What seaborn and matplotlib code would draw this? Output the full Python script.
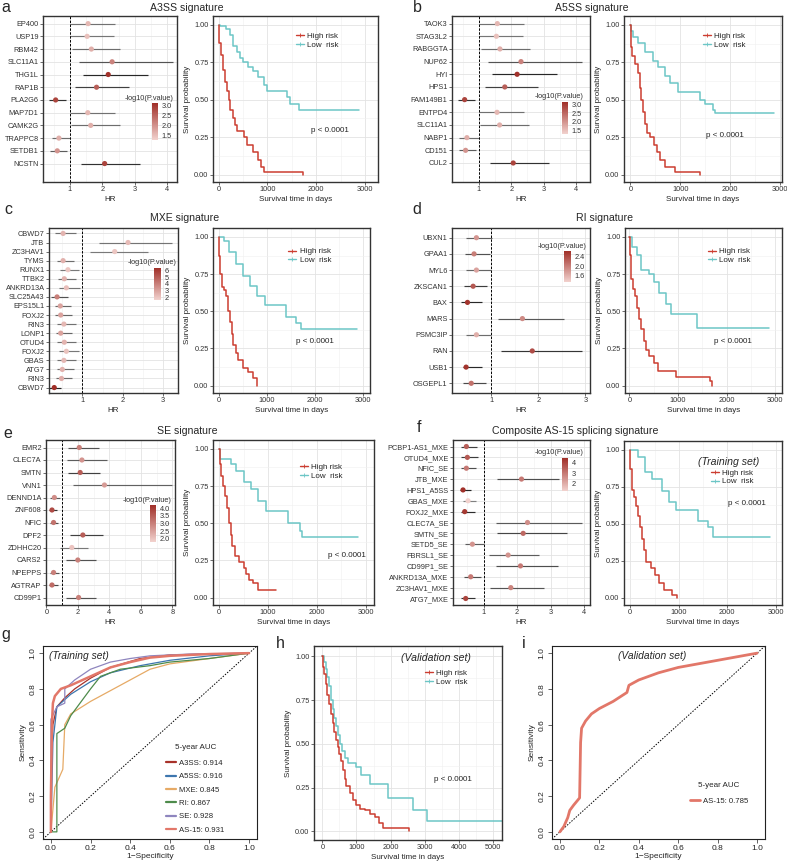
"""
Multi-panel AS signature figure: forest plots, KM curves and ROC curves.
"""
import numpy as np
import pandas as pd
import matplotlib
matplotlib.use("Agg")
import matplotlib.pyplot as plt
from matplotlib.colors import LinearSegmentedColormap, Normalize
from matplotlib.cm import ScalarMappable
from matplotlib.lines import Line2D
from matplotlib.ticker import MultipleLocator
import seaborn as sns

# ---------------- data ----------------
a_genes = ["EP400", "USP19", "RBM42", "SLC11A1", "THG1L", "RAP1B", "PLA2G6",
           "MAP7D1", "CAMK2G", "TRAPPC8", "SETDB1", "NCSTN"]
a_hr = [1.56, 1.53, 1.66, 2.30, 2.18, 1.82, 0.56, 1.55, 1.64, 0.66, 0.61, 2.07]
a_lo = [1.00, 1.00, 1.07, 1.28, 1.41, 1.17, 0.35, 1.00, 1.04, 0.44, 0.38, 1.33]
a_hi = [2.40, 2.35, 2.54, 4.18, 3.41, 2.82, 0.87, 2.38, 2.53, 1.00, 0.90, 3.17]
a_logp = [1.6, 1.5, 1.7, 2.2, 3.1, 2.6, 2.9, 1.6, 1.7, 1.7, 2.0, 2.9]

b_genes = ["TAOK3", "STAG3L2", "RABGGTA", "NUP62", "HYI", "HPS1", "FAM149B1",
           "ENTPD4", "SLC11A1", "NABP1", "CD151", "CUL2"]
b_hr = [1.57, 1.54, 1.65, 2.30, 2.18, 1.80, 0.56, 1.56, 1.64, 0.63, 0.59, 2.06]
b_lo = [1.00, 1.00, 1.08, 1.28, 1.42, 1.18, 0.37, 1.00, 1.02, 0.40, 0.38, 1.33]
b_hi = [2.40, 2.35, 2.57, 4.18, 3.40, 2.81, 0.87, 2.39, 2.55, 1.00, 0.90, 3.16]
b_logp = [1.6, 1.5, 1.7, 2.2, 3.1, 2.6, 2.9, 1.6, 1.7, 1.7, 2.0, 2.9]

c_genes = ["CBWD7", "JTB", "ZC3HAV1", "TYMS", "RUNX1", "TTBK2", "ANKRD13A",
           "SLC25A43", "EPS15L1", "FOXJ2", "RIN3", "LONP1", "OTUD4", "FOXJ2",
           "GBAS", "ATG7", "RIN3", "CBWD7"]
c_hr = [0.52, 2.13, 1.80, 0.52, 0.64, 0.55, 0.60, 0.37, 0.45, 0.46, 0.54, 0.46,
        0.55, 0.60, 0.54, 0.50, 0.48, 0.30]
c_lo = [0.31, 1.41, 1.18, 0.37, 0.44, 0.40, 0.42, 0.23, 0.31, 0.31, 0.37, 0.34,
        0.37, 0.42, 0.37, 0.36, 0.34, 0.17]
c_hi = [0.83, 3.21, 2.63, 0.79, 0.92, 0.85, 0.93, 0.64, 0.71, 0.73, 0.83, 0.75,
        0.85, 0.92, 0.83, 0.79, 0.73, 0.48]
c_logp = [2.5, 2.3, 2.0, 2.6, 2.0, 2.6, 2.2, 4.0, 3.0, 3.0, 2.4, 3.0, 2.5, 2.1,
          2.4, 2.6, 2.7, 6.3]

d_genes = ["UBXN1", "GPAA1", "MYL6", "ZKSCAN1", "BAX", "MARS", "PSMC3IP",
           "RAN", "USB1", "OSGEPL1"]
d_hr = [0.68, 0.63, 0.68, 0.61, 0.49, 1.66, 0.68, 1.87, 0.46, 0.57]
d_lo = [0.45, 0.43, 0.46, 0.41, 0.36, 1.14, 0.46, 1.21, 0.39, 0.39]
d_hi = [1.02, 0.96, 1.00, 0.91, 0.80, 2.54, 1.00, 2.93, 0.80, 0.89]
d_logp = [1.8, 2.0, 1.7, 2.3, 2.6, 1.9, 1.6, 2.4, 2.6, 2.1]

e_genes = ["EMR2", "CLEC7A", "SMTN", "VNN1", "DENND1A", "ZNF608", "NFIC",
           "DPF2", "ZDHHC20", "CARS2", "NPEPPS", "AGTRAP", "CD99P1"]
e_hr = [2.09, 2.26, 2.15, 3.69, 0.51, 0.36, 0.46, 2.32, 1.62, 2.00, 0.46, 0.36, 2.05]
e_lo = [1.37, 1.31, 1.35, 1.67, 0.25, 0.15, 0.21, 1.48, 0.89, 1.27, 0.25, 0.15, 1.27]
e_hi = [3.35, 3.88, 3.42, 8.00, 0.84, 0.68, 0.74, 3.63, 2.62, 3.14, 0.78, 0.72, 3.14]
e_logp = [3.0, 2.7, 3.5, 2.6, 2.8, 3.8, 3.2, 3.5, 2.0, 3.0, 3.0, 3.3, 3.0]

f_genes = ["PCBP1-AS1_MXE", "OTUD4_MXE", "NFIC_SE", "JTB_MXE", "HPS1_A5SS",
           "GBAS_MXE", "FOXJ2_MXE", "CLEC7A_SE", "SMTN_SE", "SETD5_SE",
           "FBRSL1_SE", "CD99P1_SE", "ANKRD13A_MXE", "ZC3HAV1_MXE", "ATG7_MXE"]
f_hr = [0.48, 0.51, 0.48, 2.13, 0.38, 0.53, 0.43, 2.31, 2.18, 0.66, 1.73, 2.10,
        0.61, 1.81, 0.46]
f_lo = [0.31, 0.33, 0.33, 1.40, 0.28, 0.38, 0.33, 1.36, 1.40, 0.43, 1.15, 1.36,
        0.40, 1.20, 0.31]
f_hi = [0.81, 0.83, 0.78, 3.25, 0.63, 0.78, 0.73, 3.93, 3.48, 1.00, 2.65, 3.21,
        0.93, 2.80, 0.73]
f_logp = [3.5, 3.6, 3.0, 3.0, 4.4, 1.3, 4.2, 2.6, 3.3, 2.5, 2.5, 3.0, 3.0, 2.8, 4.0]

# Kaplan-Meier step points (time in days, survival probability)
a_high_t = [0, 5, 40, 80, 130, 180, 215, 240, 290, 330, 370, 520, 590, 700, 800, 870, 920, 1720]
a_high_s = [1.0, 0.88, 0.80, 0.70, 0.62, 0.56, 0.50, 0.43, 0.38, 0.33, 0.29, 0.25, 0.20, 0.15, 0.10, 0.05, 0.02, 0.0]
a_low_t = [0, 30, 150, 230, 300, 380, 430, 500, 600, 710, 815, 920, 990, 1400, 1455, 1640, 2880]
a_low_s = [1.0, 0.99, 0.97, 0.93, 0.86, 0.82, 0.78, 0.75, 0.72, 0.69, 0.65, 0.60, 0.56, 0.52, 0.47, 0.43, 0.43]

b_high_t = [0, 5, 30, 100, 150, 190, 220, 250, 290, 330, 400, 470, 540, 600, 700, 900, 1400]
b_high_s = [1.0, 0.85, 0.79, 0.74, 0.68, 0.58, 0.50, 0.42, 0.34, 0.28, 0.25, 0.20, 0.15, 0.10, 0.05, 0.02, 0.0]
b_low_t = [0, 20, 60, 150, 300, 450, 550, 700, 800, 950, 1400, 1500, 1650, 1700, 2870]
b_low_s = [1.0, 0.96, 0.92, 0.88, 0.82, 0.76, 0.72, 0.66, 0.61, 0.55, 0.50, 0.47, 0.43, 0.41, 0.41]

c_high_t = [0, 5, 30, 60, 100, 150, 190, 220, 260, 300, 350, 400, 500, 600, 700, 780, 800]
c_high_s = [1.0, 0.87, 0.75, 0.66, 0.64, 0.60, 0.50, 0.43, 0.35, 0.27, 0.22, 0.17, 0.12, 0.09, 0.05, 0.02, 0.0]
c_low_t = [0, 100, 200, 350, 500, 650, 800, 950, 1400, 1600, 1700, 2870]
c_low_s = [1.0, 0.97, 0.90, 0.82, 0.74, 0.67, 0.60, 0.54, 0.46, 0.42, 0.38, 0.38]

d_high_t = [0, 5, 30, 80, 110, 150, 200, 250, 300, 350, 400, 500, 580, 950, 1650, 1700]
d_high_s = [1.0, 0.88, 0.72, 0.65, 0.60, 0.52, 0.45, 0.38, 0.30, 0.24, 0.20, 0.15, 0.10, 0.06, 0.03, 0.0]
d_low_t = [0, 50, 150, 250, 400, 500, 600, 750, 850, 1400, 2870]
d_low_s = [1.0, 0.93, 0.88, 0.78, 0.75, 0.70, 0.62, 0.55, 0.48, 0.39, 0.39]

e_high_t = [0, 5, 30, 80, 120, 160, 200, 230, 270, 320, 400, 500, 550, 600, 700, 800, 1170]
e_high_s = [1.0, 0.90, 0.82, 0.75, 0.68, 0.60, 0.50, 0.42, 0.35, 0.28, 0.24, 0.20, 0.16, 0.12, 0.10, 0.05, 0.05]
e_low_t = [0, 10, 250, 350, 500, 650, 800, 950, 1400, 1650, 1700, 2850]
e_low_s = [1.0, 0.93, 0.90, 0.85, 0.78, 0.73, 0.65, 0.58, 0.50, 0.45, 0.41, 0.41]

f_high_t = [0, 5, 30, 80, 120, 170, 200, 240, 280, 330, 420, 520, 600, 700, 850, 970]
f_high_s = [1.0, 0.87, 0.73, 0.68, 0.62, 0.55, 0.48, 0.40, 0.32, 0.24, 0.20, 0.15, 0.10, 0.05, 0.02, 0.0]
f_low_t = [0, 150, 300, 450, 650, 800, 950, 1400, 1600, 1700, 2880]
f_low_s = [1.0, 0.95, 0.85, 0.80, 0.72, 0.65, 0.59, 0.52, 0.48, 0.41, 0.41]

h_high_t = [0, 30, 60, 100, 150, 200, 250, 300, 350, 400, 450, 500, 550, 600, 650, 700,
            800, 900, 1000, 1100, 1240, 1400, 1530, 1650, 1780, 2530]
h_high_s = [1.0, 0.94, 0.90, 0.84, 0.78, 0.73, 0.67, 0.62, 0.57, 0.52, 0.48, 0.44, 0.40, 0.35,
            0.30, 0.26, 0.22, 0.18, 0.15, 0.13, 0.12, 0.10, 0.08, 0.05, 0.02, 0.0]
h_low_t = [0, 50, 100, 150, 200, 260, 300, 350, 400, 460, 520, 580, 650, 750, 1000, 1140,
           1390, 1925, 2650, 3075, 5290]
h_low_s = [1.0, 0.97, 0.93, 0.88, 0.83, 0.75, 0.70, 0.65, 0.60, 0.55, 0.50, 0.46, 0.42, 0.39,
           0.37, 0.32, 0.27, 0.19, 0.12, 0.06, 0.06]

# ROC curves (1 - specificity, sensitivity)
roc_a3ss_fpr = [0, 0, 0.01, 0.03, 0.07, 0.12, 0.2, 0.3, 0.45, 0.6, 1.0]
roc_a3ss_tpr = [0, 0.3, 0.6, 0.70, 0.75, 0.80, 0.86, 0.92, 0.97, 0.99, 1.0]
roc_a5ss_fpr = [0, 0.01, 0.03, 0.07, 0.1, 0.2, 0.3, 0.45, 0.6, 0.8, 1.0]
roc_a5ss_tpr = [0, 0.5, 0.70, 0.74, 0.77, 0.84, 0.89, 0.93, 0.96, 0.985, 1.0]
roc_mxe_fpr = [0, 0.02, 0.06, 0.07, 0.1, 0.2, 0.3, 0.4, 0.5, 0.6, 0.8, 1.0]
roc_mxe_tpr = [0, 0.25, 0.35, 0.6, 0.66, 0.73, 0.79, 0.85, 0.91, 0.94, 0.97, 1.0]
roc_ri_fpr = [0, 0.03, 0.03, 0.07, 0.1, 0.2, 0.25, 0.35, 0.5, 0.6, 0.8, 1.0]
roc_ri_tpr = [0, 0, 0.55, 0.58, 0.65, 0.80, 0.87, 0.91, 0.93, 0.95, 0.97, 1.0]
roc_se_fpr = [0, 0, 0.03, 0.07, 0.07, 0.12, 0.2, 0.3, 0.4, 0.5, 0.7, 1.0]
roc_se_tpr = [0, 0.63, 0.70, 0.72, 0.80, 0.85, 0.91, 0.95, 0.97, 0.985, 0.995, 1.0]
roc_as15_fpr = [0, 0, 0.005, 0.01, 0.02, 0.05, 0.1, 0.2, 0.3, 0.4, 0.5, 0.6, 0.8, 1.0]
roc_as15_tpr = [0, 0.2, 0.6, 0.72, 0.76, 0.80, 0.82, 0.87, 0.92, 0.95, 0.975, 0.985, 0.995, 1.0]
roc_labels = ["A3SS: 0.914", "A5SS: 0.916", "MXE: 0.845", "RI: 0.867", "SE: 0.928", "AS-15: 0.931"]

roc_val_fpr = [0, 0.02, 0.04, 0.05, 0.07, 0.10, 0.105, 0.11, 0.13, 0.16, 0.20, 0.27,
               0.34, 0.35, 0.40, 0.50, 0.60, 0.80, 1.0]
roc_val_tpr = [0, 0.03, 0.08, 0.12, 0.15, 0.19, 0.50, 0.58, 0.62, 0.66, 0.69, 0.73,
               0.78, 0.82, 0.85, 0.89, 0.92, 0.96, 1.0]
roc_val_label = "AS-15: 0.785"

# ---------------- style ----------------
W, H = 787, 861
RED = "#CC3D30"
TEAL = "#6CC6C6"
ROC_COLORS = ["#A8322A", "#3D76AE", "#E6AA66", "#4E8B4B", "#8E85BE", "#E27769"]
cmap = LinearSegmentedColormap.from_list("pv", ["#F2D2CE", "#A02E27"])
FS_TICK = 5.3
FS_LAB = 5.8
FS_TITLE = 7.6

sns.set_theme(style="white")
plt.rcParams["font.family"] = ["Liberation Sans", "DejaVu Sans"]
plt.rcParams["axes.unicode_minus"] = True

fig = plt.figure(figsize=(W / 100, H / 100), dpi=100)


def px(l, t, r, b):
    return [l / W, 1 - b / H, (r - l) / W, (b - t) / H]


def ftext(x, y, s, **kw):
    fig.text(x / W, 1 - y / H, s, **kw)


def gg_style(ax):
    ax.set_facecolor("white")
    ax.set_axisbelow(True)
    ax.grid(True, which="major", color="#E3E3E3", lw=0.6)
    ax.grid(True, which="minor", color="#F0F0F0", lw=0.4)
    for s in ax.spines.values():
        s.set_color("#333333")
        s.set_linewidth(1.0)
    ax.tick_params(which="major", bottom=True, left=True, length=2, width=0.5,
                   color="#333333", labelsize=FS_TICK, pad=1.2, labelcolor="#333333")
    ax.tick_params(which="minor", bottom=False, left=False, length=0)


def forest(box, genes, hr, lo, hi, logp, vlim, xlim, xticks, minor, pad_bottom=0.6):
    ax = fig.add_axes(px(*box))
    df = pd.DataFrame({"pos": np.arange(len(genes)), "hr": hr, "lo": lo,
                       "hi": hi, "logp": logp})
    norm = Normalize(*vlim)
    for _, r in df.iterrows():
        a = 0.5 + 0.45 * float(np.clip(norm(r["logp"]), 0, 1))
        ax.hlines(r["pos"], r["lo"], r["hi"], color="#1a1a1a", lw=0.85, alpha=a, zorder=2)
    sns.scatterplot(data=df, x="hr", y="pos", hue="logp", palette=cmap, hue_norm=vlim,
                    s=14, edgecolor="none", legend=False, ax=ax, zorder=3)
    ax.axvline(1, color="black", lw=0.7, ls=(0, (2.5, 1.5)), zorder=1)
    ax.set_xlim(*xlim)
    ax.set_ylim(len(genes) - 1 + pad_bottom, -0.6)
    ax.set_yticks(df["pos"], genes)
    ax.set_xticks(xticks)
    ax.xaxis.set_minor_locator(MultipleLocator(minor))
    ax.set_xlabel("HR", fontsize=FS_LAB, labelpad=2)
    ax.set_ylabel("")
    gg_style(ax)
    ax.grid(False, which="minor", axis="y")
    return ax


def colorbar(vlim, ticks, labels, bar):
    cax = fig.add_axes(px(*bar))
    sm = ScalarMappable(norm=Normalize(*vlim), cmap=cmap)
    cb = fig.colorbar(sm, cax=cax, ticks=ticks)
    cb.outline.set_visible(False)
    cb.ax.set_yticklabels(labels)
    cax.tick_params(length=1.5, width=0.4, color="white", labelsize=FS_TICK, pad=1,
                    labelcolor="#333333", right=True, left=False)
    ftext(bar[2] + 16, bar[1] - 1.5, "-log10(P.value)", ha="right", va="bottom",
          fontsize=FS_TICK, color="#333333")


def km(box, ht, hs, lt, ls_, xlim, xticks, leg_xy, p_xy, tag=None, tag_xy=None):
    ax = fig.add_axes(px(*box))
    sns.lineplot(x=lt, y=ls_, drawstyle="steps-post", color=TEAL, lw=1.1,
                 estimator=None, sort=False, ax=ax, legend=False)
    sns.lineplot(x=ht, y=hs, drawstyle="steps-post", color=RED, lw=1.1,
                 estimator=None, sort=False, ax=ax, legend=False)
    ax.set_xlim(*xlim)
    ax.set_ylim(-0.05, 1.06)
    ax.set_xticks(xticks)
    ax.xaxis.set_minor_locator(MultipleLocator(500))
    ax.set_yticks([0, 0.25, 0.5, 0.75, 1.0], ["0.00", "0.25", "0.50", "0.75", "1.00"])
    ax.yaxis.set_minor_locator(MultipleLocator(0.125))
    ax.set_xlabel("Survival time in days", fontsize=FS_LAB, labelpad=1.5)
    ax.set_ylabel("Survival probability", fontsize=FS_LAB, labelpad=2)
    gg_style(ax)
    handles = [Line2D([], [], color=RED, lw=1.0, marker="+", ms=3, mew=0.6),
               Line2D([], [], color=TEAL, lw=1.0, marker="+", ms=3, mew=0.6)]
    ax.legend(handles, ["High risk", "Low  risk"], loc="upper left", bbox_to_anchor=leg_xy,
              frameon=False, fontsize=FS_LAB, handlelength=1.0, handletextpad=0.4,
              labelspacing=0.15, borderaxespad=0, borderpad=0)
    ax.text(p_xy[0], p_xy[1], "p < 0.0001", transform=ax.transAxes, ha="center",
            va="center", fontsize=FS_LAB, color="#222222")
    if tag:
        ax.text(tag_xy[0], tag_xy[1], tag, transform=ax.transAxes, ha="center",
                va="center", fontsize=7.6, style="italic")
    return ax


def roc_axes(box):
    ax = fig.add_axes(px(*box))
    ax.axline((0, 0), (1, 1), color="black", lw=0.7, ls=(0, (1.5, 1.5)), zorder=1)
    ax.set_xlim(-0.04, 1.04)
    ax.set_ylim(-0.04, 1.04)
    ticks = np.round(np.arange(0, 1.01, 0.2), 1)
    ax.set_xticks(ticks, [f"{t:.1f}" for t in ticks])
    ax.set_yticks(ticks, [f"{t:.1f}" for t in ticks])
    ax.tick_params(direction="out", length=3, width=0.5, labelsize=6, pad=1.5,
                   bottom=True, left=True, color="#222222", labelcolor="#222222")
    for lbl in ax.get_yticklabels():
        lbl.set_rotation(90)
        lbl.set_va("center")
    for s in ax.spines.values():
        s.set_color("#222222")
        s.set_linewidth(0.8)
    ax.grid(False)
    ax.set_facecolor("white")
    ax.set_xlabel("1\u2212Specificity", fontsize=6, labelpad=0.5)
    ax.set_ylabel("Sensitivity", fontsize=6, labelpad=2)
    return ax


# ---------------- panels a-f ----------------
forest((43, 16, 177, 182), a_genes, a_hr, a_lo, a_hi, a_logp, (1.3, 3.15),
       (0.17, 4.3), [1, 2, 3, 4], 0.5, pad_bottom=1.45)
colorbar((1.3, 3.15), [1.5, 2.0, 2.5, 3.0], ["1.5", "2.0", "2.5", "3.0"], (152, 103, 158, 140))
km((213, 16, 378, 182), a_high_t, a_high_s, a_low_t, a_low_s, (-117, 3265),
   [0, 1000, 2000, 3000], (0.5, 0.9), (0.71, 0.31))

forest((452, 16, 590, 182), b_genes, b_hr, b_lo, b_hi, b_logp, (1.3, 3.15),
       (0.17, 4.43), [1, 2, 3, 4], 0.5, pad_bottom=1.5)
colorbar((1.3, 3.15), [1.5, 2.0, 2.5, 3.0], ["1.5", "2.0", "2.5", "3.0"], (562, 102, 568, 134))
km((624, 16, 782, 182), b_high_t, b_high_s, b_low_t, b_low_s, (-127, 3038),
   [0, 1000, 2000, 3000], (0.5, 0.9), (0.64, 0.28))

forest((49, 228, 178, 393), c_genes, c_hr, c_lo, c_hi, c_logp, (1.65, 6.35),
       (0.17, 3.37), [1, 2, 3], 0.5)
colorbar((1.65, 6.35), [2, 3, 4, 5, 6], ["2", "3", "4", "5", "6"], (154, 268, 161, 300))
km((213, 228, 370, 393), c_high_t, c_high_s, c_low_t, c_low_s, (-125, 3140),
   [0, 1000, 2000, 3000], (0.48, 0.88), (0.65, 0.31))

forest((452, 228, 590, 393), d_genes, d_hr, d_lo, d_hi, d_logp, (1.31, 2.65),
       (0.16, 3.1), [1, 2, 3], 0.5)
colorbar((1.31, 2.65), [1.6, 2.0, 2.4], ["1.6", "2.0", "2.4"], (564, 251, 571, 282))
km((625, 228, 782, 393), d_high_t, d_high_s, d_low_t, d_low_s, (-89, 3140),
   [0, 1000, 2000, 3000], (0.53, 0.88), (0.69, 0.31))

forest((46, 440, 175, 605), e_genes, e_hr, e_lo, e_hi, e_logp, (1.78, 4.22),
       (-0.02, 8.17), [0, 2, 4, 6, 8], 1)
colorbar((1.78, 4.22), [2.0, 2.5, 3.0, 3.5, 4.0], ["2.0", "2.5", "3.0", "3.5", "4.0"],
         (150, 505, 156, 542))
km((213, 440, 374, 605), e_high_t, e_high_s, e_low_t, e_low_s, (-129, 3170),
   [0, 1000, 2000, 3000], (0.54, 0.86), (0.83, 0.30))

forest((453, 440, 590, 605), f_genes, f_hr, f_lo, f_hi, f_logp, (1.3, 4.44),
       (0.08, 4.18), [1, 2, 3, 4], 0.5)
colorbar((1.3, 4.44), [2, 3, 4], ["2", "3", "4"], (562, 458, 568, 491))
km((624, 441, 782, 605), f_high_t, f_high_s, f_low_t, f_low_s, (-128, 3125),
   [0, 1000, 2000, 3000], (0.55, 0.83), (0.78, 0.62),
   tag="(Training set)", tag_xy=(0.66, 0.87))

# ---------------- panel g ----------------
ax_g = roc_axes((43, 646, 257, 839))
roc_curves = [(roc_a3ss_fpr, roc_a3ss_tpr), (roc_a5ss_fpr, roc_a5ss_tpr),
              (roc_mxe_fpr, roc_mxe_tpr), (roc_ri_fpr, roc_ri_tpr),
              (roc_se_fpr, roc_se_tpr), (roc_as15_fpr, roc_as15_tpr)]
for (fpr, tpr), col, lab in zip(roc_curves, ROC_COLORS, roc_labels):
    lw = 1.8 if lab.startswith("AS-15") else 0.9
    sns.lineplot(x=fpr, y=tpr, color=col, lw=lw, estimator=None, sort=False,
                 ax=ax_g, legend=False)
g_handles = [Line2D([], [], color=c, lw=1.6) for c in ROC_COLORS]
ax_g.legend(g_handles, roc_labels, title="5-year AUC", loc="lower left",
            bbox_to_anchor=(0.55, 0.0), frameon=False, fontsize=5.6, title_fontsize=5.8,
            handlelength=1.3, handletextpad=0.4, labelspacing=0.75, borderpad=0.2)
ax_g.get_legend()._legend_box.sep = 6
ax_g.text(0.03, 0.95, "(Training set)", transform=ax_g.transAxes, ha="left",
          va="center", fontsize=7.4, style="italic")

# ---------------- panel h ----------------
km((314, 646, 502, 840), h_high_t, h_high_s, h_low_t, h_low_s, (-244, 5264),
   [0, 1000, 2000, 3000, 4000, 5000], (0.59, 0.88), (0.74, 0.31),
   tag="(Validation set)", tag_xy=(0.65, 0.94))

# ---------------- panel i ----------------
ax_i = roc_axes((552, 646, 765, 839))
sns.lineplot(x=roc_val_fpr, y=roc_val_tpr, color=ROC_COLORS[5], lw=2.0,
             estimator=None, sort=False, ax=ax_i, legend=False)
ax_i.legend([Line2D([], [], color=ROC_COLORS[5], lw=2.0)], [roc_val_label],
            title="5-year AUC", loc="lower left", bbox_to_anchor=(0.62, 0.15),
            frameon=False, fontsize=5.6, title_fontsize=5.8, handlelength=1.3,
            handletextpad=0.4, borderpad=0.2)
ax_i.get_legend()._legend_box.sep = 6
ax_i.text(0.47, 0.95, "(Validation set)", transform=ax_i.transAxes, ha="center",
          va="center", fontsize=7.4, style="italic")

# ---------------- titles and panel letters ----------------
titles = [("A3SS signature", 187, 8), ("A5SS signature", 592, 8),
          ("MXE signature", 185, 218), ("RI signature", 605, 218),
          ("SE signature", 187, 431), ("Composite AS-15 splicing signature", 575, 431)]
for s, x, y in titles:
    ftext(x, y, s, ha="center", va="center", fontsize=FS_TITLE)

letters = [("a", 6, 7), ("b", 417, 7), ("c", 8, 210), ("d", 417, 210), ("e", 8, 433),
           ("f", 419, 428), ("g", 6, 635), ("h", 280, 643), ("i", 524, 643)]
for s, x, y in letters:
    ftext(x, y, s, ha="center", va="center", fontsize=11.5)

fig.savefig("out.png", dpi=100, facecolor="white")
